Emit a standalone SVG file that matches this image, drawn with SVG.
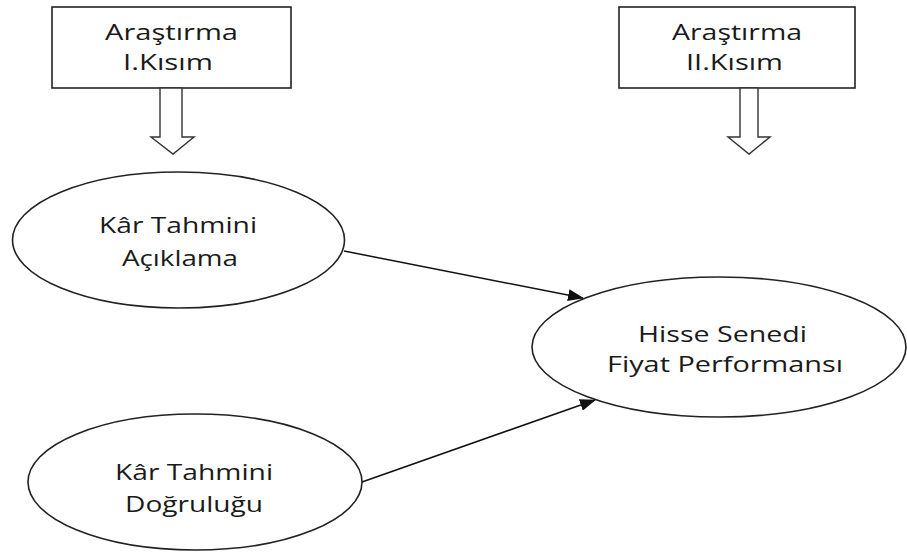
<svg xmlns="http://www.w3.org/2000/svg" width="907" height="554" viewBox="0 0 907 554">
<style>
.shape{fill:#fff;stroke:#222;stroke-width:1.6}
.blk{fill:#fff;stroke:#333;stroke-width:1.4}
.lbl{font-family:"Open Sans","Noto Sans",sans-serif;font-size:22px;fill:#1a1a1a;text-anchor:middle}
.conn{stroke:#111;stroke-width:1.5;fill:none}
</style>
<defs>
<marker id="ah" markerWidth="16" markerHeight="12" refX="15" refY="6" orient="auto" markerUnits="userSpaceOnUse">
<path d="M0,0 L16,6 L0,12 Z" fill="#111"/>
</marker>
</defs>
<rect width="907" height="554" fill="#fff"/>
<g id="box1">
<rect class="shape" x="52" y="7" width="239" height="81"/>
<text class="lbl" x="171.5" y="40" textLength="133" lengthAdjust="spacingAndGlyphs">Araştırma</text>
<text class="lbl" x="168" y="70" textLength="90" lengthAdjust="spacingAndGlyphs">I.Kısım</text>
</g>
<g id="box2">
<rect class="shape" x="619" y="7" width="236" height="81"/>
<text class="lbl" x="737" y="40" textLength="130" lengthAdjust="spacingAndGlyphs">Araştırma</text>
<text class="lbl" x="734.5" y="70" textLength="97" lengthAdjust="spacingAndGlyphs">II.Kısım</text>
</g>
<g id="arrow1">
<path class="blk" d="M160,88 L182,88 L182,137 L194,137 L173,154 L151,137 L160,137 Z"/>
</g>
<g id="arrow2">
<path class="blk" d="M740,88 L758,88 L758,137 L770,137 L749,154 L728,137 L740,137 Z"/>
</g>
<g id="e1">
<ellipse class="shape" cx="178.5" cy="240" rx="166" ry="68"/>
<text class="lbl" x="178" y="233" textLength="158" lengthAdjust="spacingAndGlyphs">Kâr Tahmini</text>
<text class="lbl" x="180" y="266" textLength="116" lengthAdjust="spacingAndGlyphs">Açıklama</text>
</g>
<g id="e2">
<ellipse class="shape" cx="195" cy="482" rx="167" ry="68"/>
<text class="lbl" x="194" y="480" textLength="158" lengthAdjust="spacingAndGlyphs">Kâr Tahmini</text>
<text class="lbl" x="194" y="512" textLength="138" lengthAdjust="spacingAndGlyphs">Doğruluğu</text>
</g>
<g id="e3">
<ellipse class="shape" cx="719" cy="347" rx="187" ry="70"/>
<text class="lbl" x="722.5" y="342" textLength="169" lengthAdjust="spacingAndGlyphs">Hisse Senedi</text>
<text class="lbl" x="725" y="372" textLength="236" lengthAdjust="spacingAndGlyphs">Fiyat Performansı</text>
</g>
<g id="connectors">
<line class="conn" x1="344" y1="251" x2="583" y2="298" marker-end="url(#ah)"/>
<line class="conn" x1="362" y1="482" x2="595" y2="400" marker-end="url(#ah)"/>
</g>
</svg>
